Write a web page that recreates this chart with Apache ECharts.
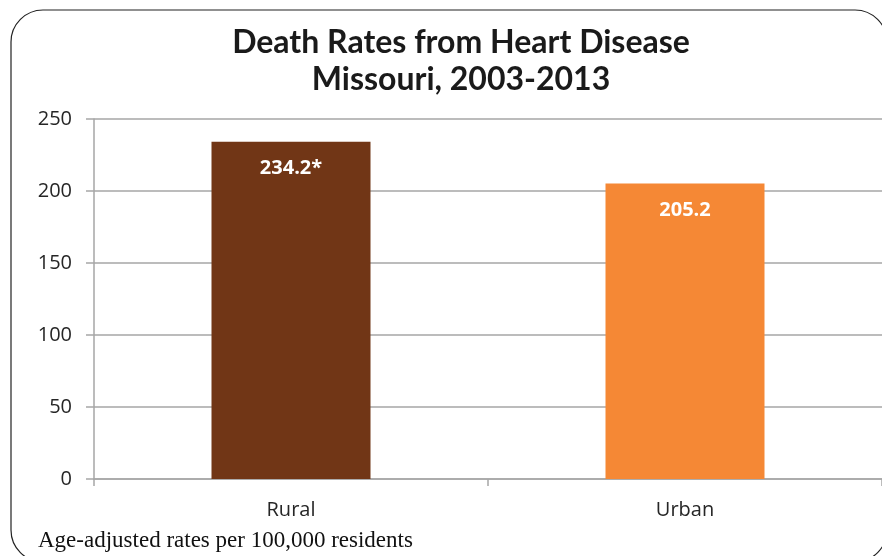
<!DOCTYPE html>
<html>
<head>
<meta charset="utf-8">
<script src="https://cdn.jsdelivr.net/npm/echarts@6/dist/echarts.min.js"></script>
<style>
  html, body { margin: 0; padding: 0; background: #fff; }
  #chart { width: 882px; height: 556px; }
</style>
</head>
<body>
<div id="chart"></div>
<script>
const categories = ["Rural", "Urban"];
const rates = [234.2, 205.2];
const rateLabels = ["234.2*", "205.2"];
const barColors = ["#713616", "#F58835"];
const yTicks = [0, 50, 100, 150, 200, 250];

const chart = echarts.init(document.getElementById("chart"));
chart.setOption({
  animation: false,
  title: {
    text: "Death Rates from Heart Disease\nMissouri, 2003-2013",
    left: 456,
    textAlign: "center",
    top: 19,
    textStyle: {
      fontFamily: "Lato",
      fontWeight: "bold",
      fontSize: 32,
      lineHeight: 37,
      color: "#1a1a1a"
    }
  },
  graphic: [
    {
      type: "rect",
      shape: { x: 11, y: 10, width: 876, height: 552, r: 32 },
      style: { fill: "none", stroke: "#222", lineWidth: 1.2 },
      z: -1
    },
    {
      type: "text",
      left: 38,
      top: 529,
      style: {
        text: "Age-adjusted rates per 100,000 residents",
        font: "23px 'Liberation Serif'",
        fill: "#111"
      }
    }
  ],
  grid: { left: 94, right: -3, top: 119, height: 360 },
  xAxis: {
    type: "category",
    data: categories,
    axisLine: { lineStyle: { color: "#a6a6a6", width: 1.5 } },
    axisTick: { show: true, length: 7, lineStyle: { color: "#a6a6a6", width: 1.5 } },
    axisLabel: { margin: 21, fontSize: 20, fontFamily: "Open Sans", color: "#262626" }
  },
  yAxis: {
    type: "value",
    min: 0,
    max: 250,
    interval: 50,
    axisLine: { show: true, lineStyle: { color: "#a6a6a6", width: 1.5 } },
    axisTick: { show: true, length: 8, lineStyle: { color: "#a6a6a6", width: 1.5 } },
    splitLine: { lineStyle: { color: "#a6a6a6", width: 1.5 } },
    axisLabel: {
      margin: 22,
      fontSize: 20,
      fontFamily: "Open Sans",
      color: "#262626",
      formatter: v => (yTicks.includes(v) ? String(v) : "")
    }
  },
  series: [
    {
      type: "bar",
      barWidth: 159,
      data: rates.map((v, i) => ({ value: v, itemStyle: { color: barColors[i] } })),
      label: {
        show: true,
        position: "insideTop",
        distance: 17,
        color: "#fff",
        fontFamily: "Open Sans",
        fontWeight: "bold",
        fontSize: 20,
        formatter: p => rateLabels[p.dataIndex]
      }
    }
  ]
});
</script>
</body>
</html>
